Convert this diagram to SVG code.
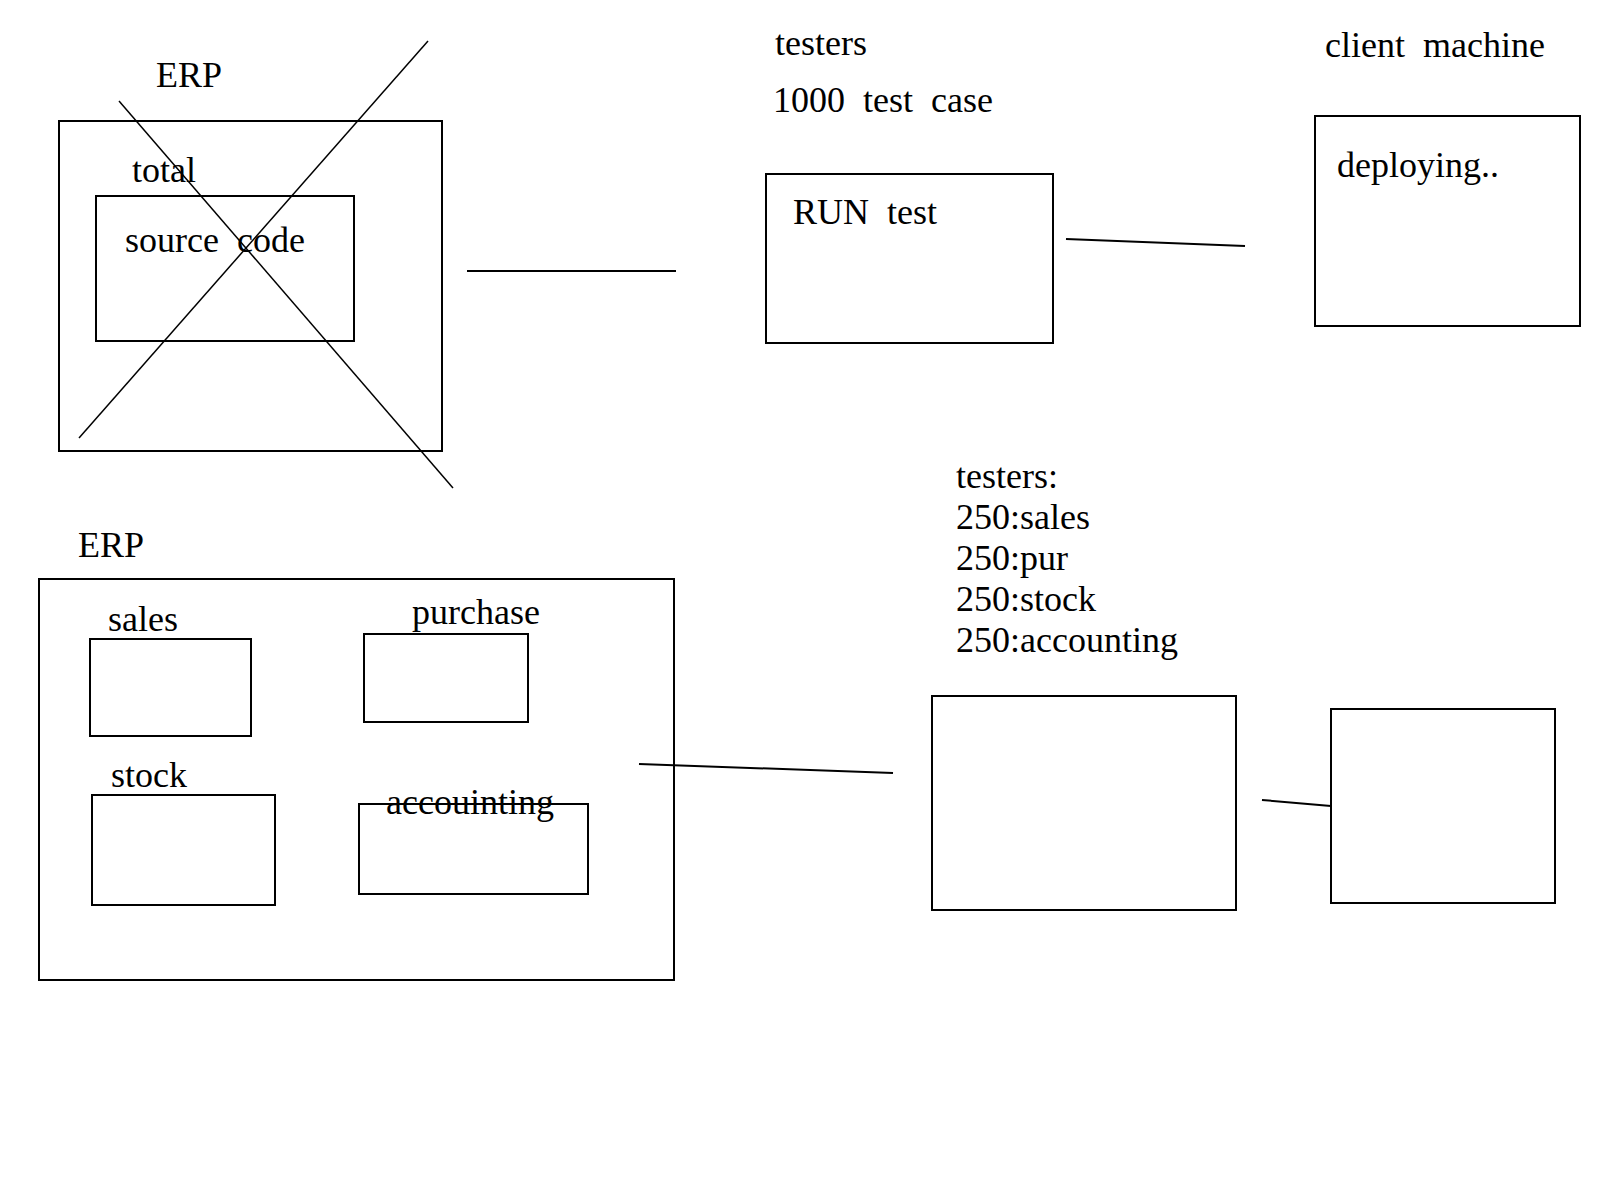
<svg xmlns="http://www.w3.org/2000/svg" width="1600" height="1200" viewBox="0 0 1600 1200">
<style>
.box{fill:none;stroke:#000;stroke-width:2}
.cross{stroke:#000;stroke-width:1.5;fill:none}
.conn{stroke:#000;stroke-width:2;fill:none}
text{font-family:"Liberation Serif","Times New Roman",serif;font-size:36px;fill:#000;white-space:pre}
</style>
<rect width="1600" height="1200" fill="#fff"/>
<g id="erp-top">
<text x="156" y="87">ERP</text>
<rect class="box" x="59" y="121" width="383" height="330"/>
<text x="132" y="182">total</text>
<g id="source-code">
<rect class="box" x="96" y="196" width="258" height="145"/>
<text x="125" y="252" xml:space="preserve">source  code</text>
</g>
<line class="cross" x1="119" y1="101" x2="453" y2="488"/>
<line class="cross" x1="428" y1="41" x2="79" y2="438"/>
</g>
<g id="testers-top">
<text x="775" y="55">testers</text>
<text x="773" y="112" xml:space="preserve">1000  test  case</text>
</g>
<g id="run-test">
<rect class="box" x="766" y="174" width="287" height="169"/>
<text x="793" y="224" xml:space="preserve">RUN  test</text>
</g>
<g id="client-machine">
<text x="1325" y="57" xml:space="preserve">client  machine</text>
<rect class="box" x="1315" y="116" width="265" height="210"/>
<text x="1337" y="177">deploying..</text>
</g>
<g id="erp-bottom">
<text x="78" y="557">ERP</text>
<rect class="box" x="39" y="579" width="635" height="401"/>
<g id="sales">
<text x="108" y="631">sales</text>
<rect class="box" x="90" y="639" width="161" height="97"/>
</g>
<g id="purchase">
<text x="412" y="624">purchase</text>
<rect class="box" x="364" y="634" width="164" height="88"/>
</g>
<g id="stock">
<text x="111" y="787">stock</text>
<rect class="box" x="92" y="795" width="183" height="110"/>
</g>
<g id="accounting">
<rect class="box" x="359" y="804" width="229" height="90"/>
<text x="386" y="814">accouinting</text>
</g>
</g>
<g id="testers-bottom">
<text x="956" y="488">testers:</text>
<text x="956" y="529">250:sales</text>
<text x="956" y="570">250:pur</text>
<text x="956" y="611">250:stock</text>
<text x="956" y="652">250:accounting</text>
<rect class="box" x="932" y="696" width="304" height="214"/>
</g>
<g id="client-bottom">
<rect class="box" x="1331" y="709" width="224" height="194"/>
</g>
<g id="connectors">
<line class="conn" x1="467" y1="271" x2="676" y2="271"/>
<line class="conn" x1="1066" y1="239" x2="1245" y2="246"/>
<line class="conn" x1="639" y1="764" x2="893" y2="773"/>
<line class="conn" x1="1262" y1="800" x2="1331" y2="806"/>
</g>
</svg>
